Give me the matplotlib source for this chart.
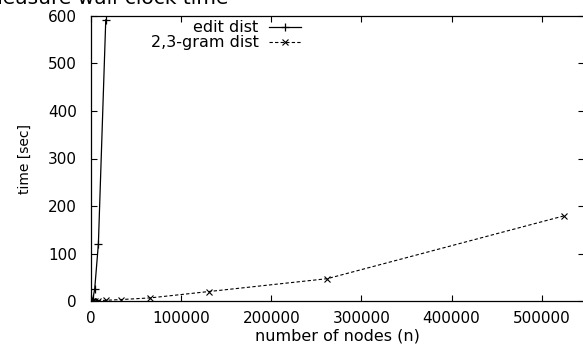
import matplotlib
matplotlib.use("Agg")
import matplotlib.pyplot as plt

plt.rcParams['font.family'] = ['DejaVu Sans']

# number of nodes and measured times (sec)
edit_nodes = [1024, 2048, 4096, 8192, 16384]
edit_time = [0.5, 4, 25, 120, 592]

gram_nodes = [1024, 2048, 4096, 8192, 16384, 32768, 65536, 131072, 262144, 524288]
gram_time = [0.1, 0.2, 0.4, 0.8, 1.5, 3, 6.5, 20, 47, 179]

yticks = [0, 100, 200, 300, 400, 500, 600]
xticks = [0, 100000, 200000, 300000, 400000, 500000]

fig = plt.figure(figsize=(5.83, 3.5), dpi=100)
ax = fig.add_axes([91/583, 49/350, 493/583, 285/350])

ax.plot(edit_nodes, edit_time, '-', color='black', lw=0.9,
        marker='+', ms=6, mew=0.9, label='edit dist')
ax.plot(gram_nodes, gram_time, '--', color='black', lw=0.8, dashes=(3, 2),
        marker='x', ms=4, mew=0.8, label='2,3-gram dist')

ax.set_xlim(0, 547000)
ax.set_ylim(0, 600)
ax.set_xticks(xticks)
ax.set_xticklabels([str(v) for v in xticks])
ax.set_yticks(yticks)
ax.set_yticklabels([str(v) for v in yticks])
ax.tick_params(direction='in', top=True, right=True, length=4, width=0.8,
               labelsize=11)
ax.tick_params(axis='y', pad=10)
ax.tick_params(axis='x', pad=7)
for s in ax.spines.values():
    s.set_linewidth(0.9)

ax.set_xlabel('number of nodes (n)', fontsize=11.5, labelpad=2)
ax.set_ylabel('time [sec]', fontsize=10, labelpad=12)

ax.legend(loc='upper left', bbox_to_anchor=(0.095, 1.03), frameon=False,
          markerfirst=False, fontsize=11.5, handlelength=2.0,
          handletextpad=0.65, labelspacing=0.0, borderpad=0.3)

fig.text(-0.03, 1 - 4/350, 'measure wall-clock time', fontsize=14.5,
         ha='left', va='baseline')

fig.savefig('out.png', dpi=100)
